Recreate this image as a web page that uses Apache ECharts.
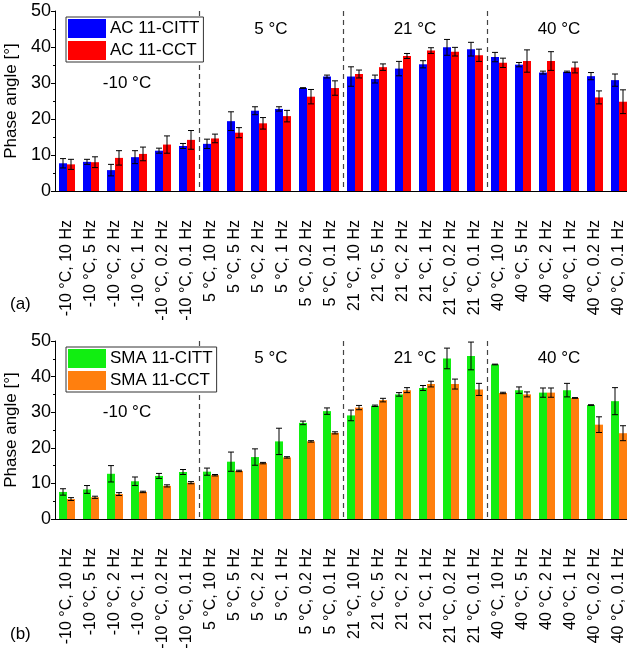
<!DOCTYPE html>
<html><head><meta charset="utf-8">
<script src="https://cdn.jsdelivr.net/npm/echarts@6/dist/echarts.min.js"></script>
<style>html,body{margin:0;padding:0;background:#fff}#c{width:627px;height:648px}</style>
</head><body><div id="c"></div>
<script>
const categories = ["-10 °C, 10 Hz","-10 °C, 5 Hz","-10 °C, 2 Hz","-10 °C, 1 Hz","-10 °C, 0.2 Hz","-10 °C, 0.1 Hz",
"5 °C, 10 Hz","5 °C, 5 Hz","5 °C, 2 Hz","5 °C, 1 Hz","5 °C, 0.2 Hz","5 °C, 0.1 Hz",
"21 °C, 10 Hz","21 °C, 5 Hz","21 °C, 2 Hz","21 °C, 1 Hz","21 °C, 0.2 Hz","21 °C, 0.1 Hz",
"40 °C, 10 Hz","40 °C, 5 Hz","40 °C, 2 Hz","40 °C, 1 Hz","40 °C, 0.2 Hz","40 °C, 0.1 Hz"];
const groupEnds = [5, 11, 17];
const temps = ["-10 °C", "5 °C", "21 °C", "40 °C"];

const acCittName = "AC 11-CITT";
const acCitt    = [7.7,8.1,5.8,9.4,11.2,12.5, 13.1,19.4,22.3,22.8,28.6,31.8, 31.8,31.1,34.0,35.2,39.9,39.4, 37.2,35.1,32.9,33.1,31.9,30.8];
const acCittErr = [1.3,0.7,1.6,1.8,0.7,0.7, 1.3,2.6,1.1,0.6,0.1,0.4, 2.7,1.1,2.0,1.0,2.2,1.9, 1.3,0.6,0.4,0.2,1.0,1.7];
const acCctName = "AC 11-CCT";
const acCct     = [7.4,8.0,9.2,10.3,12.9,14.2, 14.6,16.2,18.8,20.8,26.2,28.6, 32.5,34.4,37.5,39.0,38.7,37.7, 35.6,36.1,36.1,34.3,26.0,24.8];
const acCctErr  = [1.4,1.5,2.0,1.9,2.4,2.6, 1.2,1.4,1.6,1.6,2.0,2.0, 1.1,0.9,0.7,0.8,1.2,1.7, 1.3,3.1,2.6,1.5,1.8,3.3];

const smaCittName = "SMA 11-CITT";
const smaCitt    = [7.6,8.3,12.7,10.6,12.1,13.2, 13.3,16.1,17.4,21.8,27.0,30.3, 29.1,31.8,35.0,36.8,45.1,45.8, 43.4,36.2,35.5,36.2,32.0,33.1];
const smaCittErr = [0.9,1.1,2.3,1.2,0.7,0.7, 1.0,2.7,2.3,3.7,0.5,0.9, 1.5,0.2,0.5,0.7,2.9,3.9, 0.1,0.9,1.3,1.9,0.1,3.8];
const smaCctName = "SMA 11-CCT";
const smaCct     = [5.6,6.1,7.0,7.6,9.3,10.2, 12.3,13.5,15.7,17.3,21.8,24.2, 31.3,33.4,36.2,37.9,37.9,36.4, 35.4,35.0,35.5,34.0,26.5,24.1];
const smaCctErr  = [0.4,0.3,0.4,0.2,0.3,0.3, 0.2,0.2,0.2,0.2,0.2,0.3, 0.6,0.5,0.7,0.8,1.4,1.7, 0.2,0.7,1.3,0.1,2.2,2.1];

const yMin = 0, yMax = 50, yInterval = 10;
const FONT = "'Liberation Sans', Arial, sans-serif";
const BAR_W = 8;

const chart = echarts.init(document.getElementById('c'), null, {renderer:'canvas'});

function errRender(offset){
  return function(params, api){
    const x = api.value(0), v = api.value(1), e = api.value(2);
    const t = api.coord([x, v + e]), b = api.coord([x, v - e]);
    const px = t[0] + offset, cap = 3;
    const st = {stroke:'#000', lineWidth:1};
    return {type:'group', children:[
      {type:'line', shape:{x1:px, y1:t[1], x2:px, y2:b[1]}, style:st},
      {type:'line', shape:{x1:px-cap, y1:t[1], x2:px+cap, y2:t[1]}, style:st},
      {type:'line', shape:{x1:px-cap, y1:b[1], x2:px+cap, y2:b[1]}, style:st}
    ]};
  };
}
function dividerRender(params, api){
  const c = api.coord([api.value(0), 0]);
  const bw = api.size([1, 0])[0];
  const x = Math.round(c[0] + bw/2) + 0.5;
  const cs = params.coordSys;
  return {type:'line', shape:{x1:x, y1:cs.y, x2:x, y2:cs.y+cs.height},
    style:{stroke:'#444', lineWidth:1.2, lineDash:[5,4]}};
}
function tempRender(params, api){
  const i = params.dataIndex;
  const c = api.coord([api.value(0), api.value(1)]);
  const bw = api.size([1, 0])[0];
  return {type:'text', x: c[0] + bw/2, y: c[1],
    style:{text: temps[i], fill:'#000', font: '17px ' + FONT, align:'center', verticalAlign:'middle'}};
}

const grids = [
  {left:55, top:11, right:-4, height:180, outerBoundsMode:'none', containLabel:false},
  {left:55, top:341, right:-4, height:178, outerBoundsMode:'none', containLabel:false}
];
const xAxes = [], yAxes = [], series = [], legends = [];
const panels = [
  {names:[acCittName, acCctName], vals:[acCitt, acCct], errs:[acCittErr, acCctErr], colors:['#0000ff','#ff0000']},
  {names:[smaCittName, smaCctName], vals:[smaCitt, smaCct], errs:[smaCittErr, smaCctErr], colors:['#11ee11','#ff7f0e']}
];
const tempPos = [[2, 30], [8, 45], [14, 45], [20, 45]];

panels.forEach((p, g) => {
  const xb = xAxes.length;
  xAxes.push({type:'category', gridIndex:g, data:categories, position:'bottom',
    axisLine:{lineStyle:{color:'#000', width:1}},
    axisTick:{alignWithLabel:true, length:4, lineStyle:{color:'#000'}},
    axisLabel:{rotate:90, fontSize:16, fontFamily:FONT, color:'#000', margin:29, interval:0}});
  xAxes.push({type:'category', gridIndex:g, data:categories, position:'top',
    axisLine:{lineStyle:{color:'#000', width:1}},
    axisTick:{alignWithLabel:true, length:4, lineStyle:{color:'#000'}}, axisLabel:{show:false}});
  xAxes.push({type:'category', gridIndex:g, data:categories, position:'top',
    axisLine:{show:false},
    axisTick:{alignWithLabel:false, length:2, lineStyle:{color:'#000'}}, axisLabel:{show:false}});
  const yb = yAxes.length;
  yAxes.push({type:'value', gridIndex:g, min:yMin, max:yMax, interval:yInterval, position:'left',
    name:'Phase angle [°]', nameLocation:'middle', nameGap:32,
    nameTextStyle:{fontSize:17, fontFamily:FONT, color:'#000'},
    axisLine:{show:true, lineStyle:{color:'#000', width:1}},
    axisTick:{show:true, length:4, lineStyle:{color:'#000'}},
    minorTick:{show:true, splitNumber:2, length:2, lineStyle:{color:'#000'}},
    axisLabel:{fontSize:18, fontFamily:FONT, color:'#000', margin:4},
    splitLine:{show:false}});
  yAxes.push({type:'value', gridIndex:g, min:yMin, max:yMax, interval:yInterval, position:'right',
    axisLine:{show:true, lineStyle:{color:'#000', width:1}},
    axisTick:{show:true, length:4, lineStyle:{color:'#000'}},
    minorTick:{show:true, splitNumber:2, length:2, lineStyle:{color:'#000'}},
    axisLabel:{show:false}, splitLine:{show:false}});

  p.names.forEach((n, k) => {
    series.push({type:'bar', name:n, xAxisIndex:xb, yAxisIndex:yb, data:p.vals[k],
      barWidth:BAR_W, barGap:'0%', itemStyle:{color:p.colors[k]}, z:2, silent:true});
  });
  p.names.forEach((n, k) => {
    series.push({type:'custom', xAxisIndex:xb, yAxisIndex:yb, z:5, silent:true,
      renderItem: errRender(k === 0 ? -BAR_W/2 : BAR_W/2),
      encode:{x:0, y:1},
      data: p.vals[k].map((v, i) => [i, v, p.errs[k][i]])});
  });
  series.push({type:'custom', xAxisIndex:xb, yAxisIndex:yb, z:1, silent:true,
    renderItem: dividerRender, encode:{x:0, y:1}, data: groupEnds.map(e => [e, 0])});
  series.push({type:'custom', xAxisIndex:xb, yAxisIndex:yb, z:6, silent:true,
    renderItem: tempRender, encode:{x:0, y:1}, data: tempPos});

  legends.push({show:true, data:p.names, orient:'vertical', left:66, top: g === 0 ? 17 : 347,
    itemWidth:38, itemHeight:19, itemGap:3, padding:[2,4,2,2],
    borderColor:'#333', borderWidth:1, backgroundColor:'#fff',
    icon:'rect', selectedMode:false,
    textStyle:{fontSize:17, fontFamily:FONT, color:'#000', padding:[0,0,0,-1]}});
});

chart.setOption({
  animation:false,
  textStyle:{fontFamily:FONT},
  grid: grids, xAxis: xAxes, yAxis: yAxes, legend: legends, series: series,
  graphic:[
    {type:'text', left:10, top:296, style:{text:'(a)', font:'17px ' + FONT, fill:'#000'}},
    {type:'text', left:10, top:626, style:{text:'(b)', font:'17px ' + FONT, fill:'#000'}}
  ]
});
</script></body></html>
